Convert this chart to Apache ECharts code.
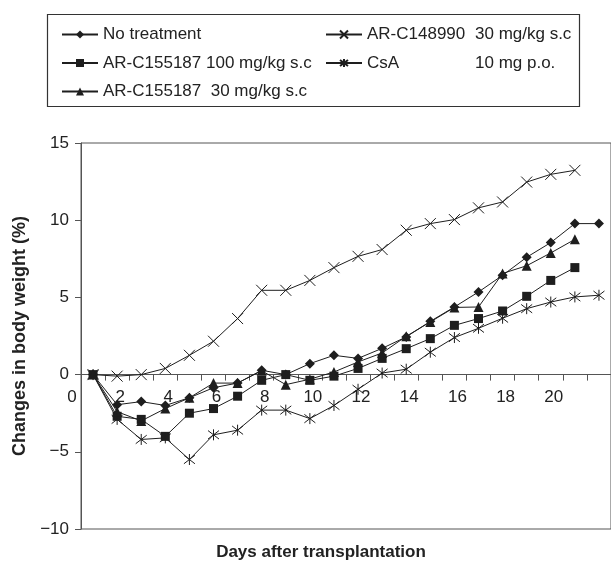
<!DOCTYPE html>
<html>
<head>
<meta charset="utf-8">
<script src="https://cdn.jsdelivr.net/npm/echarts@6/dist/echarts.min.js"></script>
<style>html,body{margin:0;padding:0;background:#fff}#c{width:611px;height:563px}</style>
</head>
<body>
<div id="c"></div>
<script>
// ---- data ----
const days = [1,2,3,4,5,6,7,8,9,10,11,12,13,14,15,16,17,18,19,20,21,22];
const xLabelValues = [2,4,6,8,10,12,14,16,18,20];
const xTickValues = [1.5,2.5,3.5,4.5,5.5,6.5,7.5,8.5,9.5,10.5,11.5,12.5,13.5,14.5,15.5,16.5,17.5,18.5,19.5,20.5,21.5];

const noTreatment = [0,-1.95,-1.75,-2.0,-1.5,-0.85,-0.55,0.28,0.0,0.71,1.25,1.05,1.7,2.44,3.45,4.38,5.35,6.43,7.6,8.55,9.78,9.78];
const arc155187_100 = [0,-2.7,-2.9,-4.0,-2.5,-2.2,-1.4,-0.37,0.0,-0.37,-0.1,0.4,1.05,1.68,2.33,3.19,3.63,4.12,5.07,6.1,6.93];
const arc155187_30 = [0,-2.4,-3.0,-2.2,-1.5,-0.55,-0.55,0.25,-0.65,-0.3,0.17,0.82,1.4,2.48,3.41,4.35,4.38,6.55,7.05,7.88,8.76];
const arc148990_30 = [0,-0.1,0,0.4,1.25,2.16,3.63,5.46,5.46,6.1,6.93,7.66,8.1,9.35,9.78,10.04,10.8,11.18,12.47,12.97,13.23];
const csa = [0,-2.9,-4.2,-4.1,-5.5,-3.9,-3.6,-2.3,-2.3,-2.85,-2.0,-0.95,0.1,0.35,1.45,2.4,3.0,3.65,4.27,4.7,5.03,5.14];

const names = {
  nt: 'No treatment',
  a100: 'AR-C155187 100 mg/kg s.c',
  a30: 'AR-C155187  30 mg/kg s.c',
  b30: 'AR-C148990  30 mg/kg s.c',
  csa: 'CsA 10 mg p.o.'
};
const legendParts = {
  'AR-C148990  30 mg/kg s.c': ['AR-C148990', '30 mg/kg s.c'],
  'CsA 10 mg p.o.': ['CsA', '10 mg p.o.']
};

const INK = '#1e1e1e';
const crossPath = 'path://M0,0L10,10M10,0L0,10';
const starPath = 'path://M0,0L10,10M10,0L0,10M5,-1.5L5,11.5';
const minus = v => String(v).replace('-', '\u2212');

function pts(vals){ return vals.map((v,i)=>[days[i], v]); }
function mk(name, vals, symbol, size, extra){
  return Object.assign({
    name: name, type: 'line', data: pts(vals),
    symbol: symbol, symbolSize: size, showSymbol: true,
    lineStyle: {color: INK, width: 1},
    itemStyle: {color: INK, borderColor: INK, borderWidth: 0},
    emphasis: {disabled: true},
    animation: false, z: 3
  }, extra || {});
}
const strokeStyle = {color: INK, borderColor: INK, borderWidth: 1};

const chart = echarts.init(document.getElementById('c'), null, {renderer: 'canvas'});
const FONT = 'Liberation Sans, Arial, sans-serif';

chart.setOption({
  animation: false,
  backgroundColor: '#fff',
  textStyle: {fontFamily: FONT},
  grid: {left: 81, top: 143, width: 534, height: 386, show: true, borderColor: '#555', borderWidth: 1, containLabel: false},
  xAxis: {
    type: 'value', min: 0.5, max: 22.5,
    axisLine: {onZero: false, lineStyle: {color: '#555', width: 1}},
    axisTick: {show: true, inside: false, length: 6, customValues: xTickValues, lineStyle: {color: '#555'}},
    axisLabel: {customValues: xLabelValues, margin: 14, fontSize: 17, color: '#222', fontFamily: FONT, padding: [0, 0, 0, 6]},
    splitLine: {show: false}
  },
  yAxis: {
    type: 'value', min: -10, max: 15, interval: 5,
    name: 'Changes in body weight (%)', nameLocation: 'middle', nameGap: 48,
    nameTextStyle: {fontSize: 18, fontWeight: 'bold', color: '#222', fontFamily: FONT},
    axisLine: {show: true, onZero: false, lineStyle: {color: '#555', width: 1}},
    axisTick: {show: true, inside: false, length: 6, lineStyle: {color: '#555'}},
    axisLabel: {margin: 12, fontSize: 17, color: '#222', fontFamily: FONT, formatter: minus},
    splitLine: {show: false}
  },
  legend: [
    {
      orient: 'vertical', left: 56, top: 21, itemWidth: 36, itemHeight: 10, itemGap: 11.5,
      data: [names.nt, names.a100, names.a30],
      textStyle: {fontSize: 17, color: '#222', fontFamily: FONT, lineHeight: 16},
      selectedMode: false
    },
    {
      orient: 'vertical', left: 320, top: 21, itemWidth: 36, itemHeight: 10, itemGap: 11.5,
      data: [names.b30, names.csa],
      formatter: function(n){ const p = legendParts[n]; return '{a|' + p[0] + '}{b|' + p[1] + '}'; },
      textStyle: {fontSize: 17, color: '#222', fontFamily: FONT, lineHeight: 16,
        rich: {a: {width: 108, fontSize: 17, fontFamily: FONT, color: '#222'}, b: {fontSize: 17, fontFamily: FONT, color: '#222'}}},
      selectedMode: false
    }
  ],
  graphic: [
    {id: 'legbox', type: 'rect', left: 45, top: 12, shape: {width: 532, height: 92}, style: {fill: 'none', stroke: '#333', lineWidth: 1.2}, silent: true},
    {id: 'xname', type: 'text', x: 321, y: 552, style: {text: 'Days after transplantation', font: 'bold 17px ' + FONT, fill: '#222', align: 'center', verticalAlign: 'middle'}, silent: true}
  ],
  series: [
    mk(names.nt, noTreatment, 'diamond', 10),
    mk(names.a100, arc155187_100, 'rect', 9),
    mk(names.a30, arc155187_30, 'triangle', 10),
    mk(names.b30, arc148990_30, crossPath, 11, {itemStyle: strokeStyle}),
    mk(names.csa, csa, starPath, 11, {itemStyle: strokeStyle})
  ]
});

// Move the day axis (line, ticks, labels) up to y = 0, using the library's scale
const zx = chart.convertToPixel({xAxisIndex: 0}, 0);
const zy = chart.convertToPixel({yAxisIndex: 0}, 0);
const yBottom = chart.convertToPixel({yAxisIndex: 0}, -10);
chart.setOption({
  xAxis: {offset: -(yBottom - zy)},
  graphic: [
    {id: 'zero', type: 'text', x: zx + 3, y: zy + 14, style: {text: '0', font: '17px ' + FONT, fill: '#222', align: 'center', verticalAlign: 'top'}, silent: true}
  ]
});
</script>
</body>
</html>
